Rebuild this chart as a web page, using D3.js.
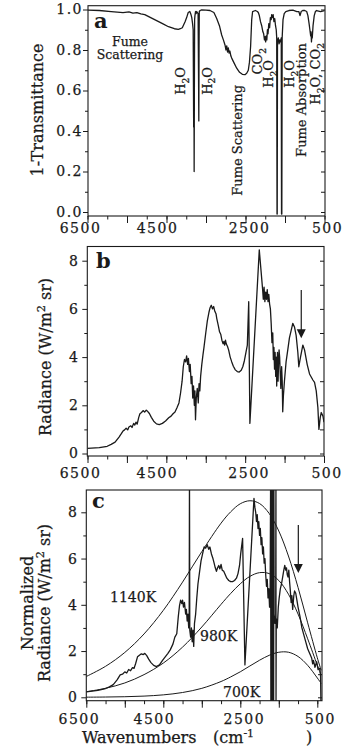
<!DOCTYPE html>
<html><head><meta charset="utf-8">
<script src="https://cdn.jsdelivr.net/npm/d3@7"></script>
<style>
body{margin:0;background:#fff;}
svg{display:block;font-family:"DejaVu Serif",serif;}
</style></head><body>
<svg id="chart" width="357" height="749"></svg>
<script>
// ---------------- DATA ----------------
const xTickValues = [6500,6000,5500,5000,4500,4000,3500,3000,2500,2000,1500,1000,500];
const xMajorTicks = [6500,5500,4500,3500,2500,1500,500];
const xTickLabels = [6500,4500,2500,500];
const yTicksA = [0,0.2,0.4,0.6,0.8,1.0];
const yMinorA = [0.1,0.3,0.5,0.7,0.9];
const yTicksBC = [0,2,4,6,8];
const yMinorBC = [1,3,5,7];

// panel a : 1-Transmittance  [wavenumber, value]
const spectrumA = [[6500,0.997],[6200,0.995],[5900,0.99],[5600,0.985],[5450,0.988],[5350,0.982],[5250,0.985],[5150,0.978],[5050,0.975],[4950,0.965],[4850,0.955],[4750,0.945],[4600,0.93],[4450,0.915],[4300,0.905],[4200,0.902],[4150,0.905],[4100,0.91],[4030,0.94],[3990,0.96],[3950,0.985],[3910,0.99],[3880,0.975],[3860,0.96],[3840,0.93],[3825,0.9],[3812,0.42],[3806,0.7],[3800,0.2],[3794,0.6],[3788,0.95],[3780,0.97],[3765,0.99],[3750,0.98],[3735,0.99],[3700,0.98],[3690,0.7],[3682,0.45],[3676,0.8],[3670,0.99],[3650,0.995],[3609,0.998],[3500,0.997],[3400,0.995],[3300,0.985],[3229,0.956],[3160,0.92],[3103,0.874],[3060,0.85],[3019,0.825],[2995,0.80],[2975,0.82],[2955,0.79],[2935,0.81],[2915,0.785],[2895,0.795],[2870,0.77],[2849,0.76],[2800,0.74],[2723,0.71],[2650,0.69],[2580,0.68],[2513,0.678],[2470,0.685],[2429,0.70],[2400,0.74],[2370,0.82],[2343,0.95],[2320,0.99],[2250,0.995],[2200,0.99],[2176,0.985],[2150,0.97],[2120,0.94],[2090,0.92],[2060,0.89],[2040,0.88],[2020,0.85],[2006,0.866],[1990,0.84],[1975,0.87],[1960,0.85],[1945,0.9],[1930,0.88],[1910,0.93],[1890,0.91],[1870,0.96],[1850,0.95],[1837,0.975],[1820,0.96],[1800,0.975],[1780,0.94],[1760,0.955],[1740,0.92],[1722,0.9],[1710,0.86],[1702,-0.01],[1697,-0.01],[1690,0.84],[1670,0.86],[1650,0.83],[1630,0.85],[1610,0.84],[1595,0.86],[1588,-0.01],[1580,-0.01],[1572,0.86],[1550,0.95],[1520,0.98],[1480,0.99],[1400,0.995],[1300,0.997],[1200,0.99],[1150,0.99],[1120,0.97],[1090,0.99],[1050,0.995],[1000,0.995],[951,0.99],[920,0.97],[890,0.93],[870,0.9],[850,0.87],[840,0.89],[830,0.84],[820,0.875],[810,0.86],[790,0.92],[760,0.97],[730,0.99],[700,0.995],[600,0.99],[500,0.995]];

// panel b : Radiance
const spectrumB = [[6500,0.21],[6200,0.24],[6000,0.3],[5900,0.38],[5800,0.47],[5700,0.68],[5650,0.8],[5600,0.93],[5560,0.98],[5520,1.05],[5480,0.98],[5450,1.1],[5400,1.15],[5370,1.08],[5330,1.25],[5300,1.18],[5270,1.3],[5240,1.22],[5200,1.5],[5170,1.65],[5130,1.7],[5090,1.78],[5050,1.72],[5010,1.8],[4970,1.74],[4930,1.66],[4880,1.5],[4820,1.34],[4750,1.23],[4680,1.2],[4600,1.25],[4520,1.35],[4440,1.48],[4380,1.55],[4330,1.65],[4280,1.72],[4230,1.9],[4180,2.1],[4140,2.5],[4100,3.0],[4070,3.6],[4040,3.9],[4010,3.8],[3985,4.05],[3960,3.7],[3940,3.95],[3915,3.4],[3895,3.7],[3870,2.9],[3850,3.2],[3830,2.3],[3810,2.8],[3790,2.0],[3775,2.6],[3760,1.4],[3740,2.3],[3715,2.7],[3690,2.1],[3670,2.9],[3650,2.6],[3630,3.2],[3600,3.7],[3570,4.1],[3545,4.4],[3500,5.0],[3460,5.5],[3420,5.85],[3390,6.05],[3360,6.15],[3330,6.0],[3300,6.1],[3270,5.9],[3240,5.8],[3220,5.6],[3180,5.3],[3150,5.05],[3120,4.95],[3090,4.7],[3060,4.55],[3040,4.65],[3020,4.5],[3000,4.7],[2980,4.55],[2950,4.45],[2920,4.3],[2880,4.0],[2840,3.8],[2800,3.62],[2750,3.47],[2700,3.4],[2650,3.38],[2600,3.45],[2560,3.6],[2520,3.85],[2480,4.2],[2445,4.5],[2410,6.3],[2380,1.25],[2142,8.45],[2056,6.78],[2040,6.4],[2020,6.9],[2000,6.3],[1980,6.7],[1960,6.4],[1940,6.8],[1920,6.3],[1900,6.6],[1880,6.2],[1860,6.0],[1840,5.4],[1820,4.6],[1800,5.0],[1785,3.9],[1770,4.4],[1755,3.5],[1740,4.2],[1725,3.2],[1710,4.0],[1700,2.8],[1690,3.6],[1680,4.2],[1665,3.0],[1650,3.9],[1640,4.3],[1625,4.0],[1610,3.3],[1595,2.7],[1575,3.6],[1560,3.0],[1547,1.73],[1530,2.4],[1504,3.0],[1462,3.8],[1419,4.3],[1377,4.8],[1334,5.1],[1292,5.4],[1249,5.25],[1207,4.9],[1164,4.2],[1139,3.6],[1096,4.0],[1037,4.5],[994,4.3],[927,3.7],[867,3.3],[782,3.05],[740,2.95],[697,2.6],[655,1.9],[629,1.0],[595,1.5],[570,1.7],[527,1.55],[500,1.3]];

// panel c : Normalized radiance
const spectrumC = [[6500,0.23],[6200,0.3],[6000,0.38],[5900,0.45],[5800,0.55],[5700,0.75],[5620,0.97],[5560,1.0],[5500,1.1],[5450,1.05],[5400,1.2],[5350,1.15],[5300,1.28],[5260,1.25],[5220,1.45],[5170,1.75],[5120,1.82],[5070,1.88],[5020,1.85],[4980,1.9],[4930,1.8],[4880,1.65],[4820,1.5],[4750,1.38],[4680,1.33],[4600,1.4],[4520,1.6],[4450,1.75],[4380,1.9],[4320,2.05],[4250,2.3],[4200,2.6],[4150,2.75],[4110,3.5],[4080,3.95],[4050,4.2],[4020,4.05],[4000,4.2],[3975,3.9],[3950,4.1],[3920,3.6],[3900,3.8],[3880,3.3],[3860,3.6],[3840,3.0],[3828,3.3],[3820,9.7],[3812,2.9],[3790,2.6],[3770,3.0],[3750,2.4],[3730,2.9],[3710,2.2],[3690,3.2],[3660,3.6],[3630,4.3],[3600,4.9],[3560,5.4],[3520,5.9],[3480,6.2],[3440,6.5],[3400,6.45],[3360,6.6],[3320,6.4],[3290,6.5],[3250,6.2],[3210,6.0],[3180,5.8],[3150,5.6],[3120,5.45],[3090,5.6],[3060,5.7],[3030,5.55],[3000,5.75],[2970,5.5],[2930,5.45],[2890,5.3],[2850,5.15],[2800,5.05],[2750,5.0],[2700,5.0],[2650,5.05],[2600,5.15],[2560,5.35],[2520,5.7],[2490,6.2],[2440,6.87],[2380,1.4],[2145,8.6],[2120,8.2],[2100,8.0],[2080,7.6],[2060,7.9],[2040,7.3],[2020,7.6],[2000,7.0],[1980,7.3],[1960,6.6],[1940,6.9],[1920,6.2],[1900,6.5],[1880,5.8],[1860,6.0],[1840,5.3],[1820,4.8],[1800,5.1],[1780,4.3],[1760,4.7],[1740,3.9],[1725,4.5],[1712,9.7],[1706,-0.3],[1700,9.7],[1694,-0.3],[1688,9.7],[1682,-0.3],[1676,9.7],[1670,-0.3],[1664,9.7],[1658,-0.3],[1652,9.7],[1646,-0.3],[1640,9.7],[1634,-0.3],[1628,9.7],[1622,3.6],[1600,3.2],[1580,3.5],[1574,9.7],[1572,-0.3],[1566,3.4],[1540,3.0],[1513,3.9],[1490,4.3],[1460,4.7],[1430,4.9],[1400,5.2],[1370,5.5],[1345,5.7],[1320,5.5],[1300,5.6],[1280,5.3],[1260,5.2],[1240,5.5],[1220,5.0],[1200,4.6],[1180,4.1],[1160,4.4],[1140,3.8],[1110,4.4],[1090,4.6],[1060,4.5],[1030,4.2],[1000,3.9],[950,3.5],[900,3.0],[850,2.7],[800,2.4],[750,2.1],[700,1.9],[647,1.7],[620,1.45],[600,1.6],[560,1.3],[517,1.54],[480,1.2],[431,1.25],[415,0.9],[405,-0.3]];

// blackbody reference curves (panel c)
const bbWavenumbers = [6500,6000,5500,5000,4500,4000,3500,3000,2750,2500,2250,2000,1750,1500,1250,1000,750,500,400];
const bb1140K = [0.90,1.34,1.94,2.74,3.76,4.98,6.30,7.53,8.02,8.37,8.50,8.38,7.95,7.19,6.11,4.75,3.22,1.71,1.17];
const bb980K  = [0.24,0.39,0.62,0.98,1.48,2.17,3.04,4.02,4.49,4.91,5.23,5.39,5.35,5.05,4.46,3.60,2.53,1.39,0.96];
const bb700K  = [0.005,0.012,0.025,0.052,0.105,0.207,0.387,0.683,0.881,1.103,1.356,1.603,1.816,1.948,1.949,1.765,1.381,0.837,0.603];

// arrows: [wavenumber, tail value, tip value]
const arrowB = [1077, 6.78, 4.78];
const arrowC = [993, 7.45, 5.37];

// ---------------- DRAWING ----------------
const INK = '#1a1a1a';
const svg = d3.select('#chart');
const labelNudge = {6500:-7, 4500:-9, 2500:4, 500:3};

function rich(g, x, y, parts, o) {
  const size = o.size || 13;
  const t = g.append('text')
    .attr('transform', `translate(${x},${y}) rotate(${o.rot||0})`)
    .attr('text-anchor', o.anchor || 'start')
    .attr('font-size', size)
    .attr('font-weight', o.weight || 'normal')
    .attr('fill', INK).attr('stroke', INK).attr('stroke-width', 0.25);
  let cur = 0;
  parts.forEach(([s, k]) => {
    const target = k === 'sub' ? size*0.3 : k === 'sup' ? -size*0.4 : 0;
    const ts = t.append('tspan').text(s).attr('dy', target - cur);
    if (k !== 'n') ts.attr('font-size', size*0.7);
    cur = target;
  });
  return t;
}

function styleAxis(sel) {
  sel.select('.domain').remove();
  sel.selectAll('line').attr('stroke', INK);
  sel.attr('font-family', '"DejaVu Serif", serif').attr('font-size', 14);
  sel.selectAll('text').attr('fill', INK).attr('letter-spacing', 1.5)
    .attr('stroke', INK).attr('stroke-width', 0.25);
}

function panel(cfg) {
  const x = d3.scaleLinear().domain([6500, 500]).range([cfg.x6500, cfg.x500]);
  const y = d3.scaleLinear().domain(cfg.yDom).range(cfg.yRange);
  const g = svg.append('g');
  const id = 'clip-' + cfg.name;
  svg.append('clipPath').attr('id', id).append('rect')
    .attr('x', cfg.left).attr('y', cfg.top)
    .attr('width', cfg.right - cfg.left).attr('height', cfg.bottom - cfg.top);

  // bottom axis: minor + major ticks
  g.append('g').attr('transform', `translate(0,${cfg.bottom})`)
    .call(d3.axisBottom(x).tickValues(xTickValues).tickSize(3.5).tickFormat(''))
    .call(styleAxis);
  g.append('g').attr('transform', `translate(0,${cfg.bottom})`)
    .call(d3.axisBottom(x).tickValues(xMajorTicks).tickSize(7).tickFormat(''))
    .call(styleAxis);
  g.append('g').selectAll('text').data(xTickLabels).join('text')
    .attr('x', d => x(d) + labelNudge[d]).attr('y', cfg.labelY)
    .attr('text-anchor', 'middle').attr('font-size', 14).attr('letter-spacing', 1.5)
    .attr('fill', INK).attr('stroke', INK).attr('stroke-width', 0.25).text(d => d);

  // left axis
  g.append('g').attr('transform', `translate(${cfg.left},0)`)
    .call(d3.axisLeft(y).tickValues(cfg.yTicks).tickSize(5).tickPadding(cfg.pad).tickFormat(cfg.fmt))
    .call(styleAxis);
  g.append('g').attr('transform', `translate(${cfg.left},0)`)
    .call(d3.axisLeft(y).tickValues(cfg.yMinor).tickSize(3).tickFormat(''))
    .call(styleAxis);
  // right frame inward ticks
  g.append('g').attr('transform', `translate(${cfg.right},0)`)
    .call(d3.axisLeft(y).tickValues(cfg.yTicks.concat(cfg.yMinor)).tickSize(4).tickFormat(''))
    .call(styleAxis);

  // frame
  g.append('rect').attr('x', cfg.left).attr('y', cfg.top)
    .attr('width', cfg.right - cfg.left).attr('height', cfg.bottom - cfg.top)
    .attr('fill', 'none').attr('stroke', INK).attr('stroke-width', 1.1);

  // panel letter
  g.append('text').attr('x', cfg.letterX).attr('y', cfg.letterY)
    .attr('font-size', 21).attr('font-weight', 'bold').attr('fill', INK).text(cfg.name);

  const plot = g.append('g').attr('clip-path', `url(#${id})`);
  return {x, y, g, plot};
}

function trace(p, data, width, curve) {
  p.plot.append('path').datum(data)
    .attr('fill', 'none').attr('stroke', INK).attr('stroke-width', width)
    .attr('stroke-linejoin', 'round')
    .attr('d', d3.line().x(d => p.x(d[0])).y(d => p.y(d[1])).curve(curve || d3.curveLinear));
}

function arrow(p, a) {
  const X = p.x(a[0]), y1 = p.y(a[1]), y2 = p.y(a[2]);
  p.g.append('line').attr('x1', X).attr('x2', X).attr('y1', y1).attr('y2', y2 - 6)
    .attr('stroke', INK).attr('stroke-width', 1.2);
  p.g.append('path').attr('d', `M${X-4.5},${y2-9}L${X+4.5},${y2-9}L${X},${y2}Z`).attr('fill', INK);
}

// ---- panel a ----
const pa = panel({name:'a', x6500:87.5, x500:324.5, left:88, right:325, top:5.7, bottom:216,
  yDom:[0,1], yRange:[212,9.5], yTicks:yTicksA, yMinor:yMinorA, fmt:d3.format('.1f'), pad:0,
  labelY:233, letterX:94, letterY:28});
trace(pa, spectrumA, 1.3);
rich(pa.g, 43, 110, [['1-Transmittance','n']], {size:16, anchor:'middle', rot:-90});
rich(pa.g, 130, 45.5, [['Fume','n']], {size:12.5, anchor:'middle'});
rich(pa.g, 130, 59, [['Scattering','n']], {size:12.5, anchor:'middle'});
const H2O = [['H','n'],['2','sub'],['O','n']];
rich(pa.g, 185, 67, H2O, {size:13, anchor:'end', rot:-90});
rich(pa.g, 211.5, 67, H2O, {size:13, anchor:'end', rot:-90});
rich(pa.g, 242, 85, [['Fume Scattering','n']], {size:13, anchor:'end', rot:-90});
rich(pa.g, 262, 48, [['CO','n'],['2','sub']], {size:13, anchor:'end', rot:-90});
rich(pa.g, 273, 60, H2O, {size:13, anchor:'end', rot:-90});
rich(pa.g, 294, 60, H2O, {size:13, anchor:'end', rot:-90});
rich(pa.g, 306, 43, [['Fume Absorption','n']], {size:13, anchor:'end', rot:-90});
rich(pa.g, 320, 43, [['H','n'],['2','sub'],['O, CO','n'],['2','sub']], {size:13, anchor:'end', rot:-90});

// ---- panel b ----
const pb = panel({name:'b', x6500:87.5, x500:324, left:87.3, right:324, top:246.5, bottom:456,
  yDom:[0,8], yRange:[453.5,260.7], yTicks:yTicksBC, yMinor:yMinorBC, fmt:d3.format('d'), pad:3,
  labelY:478, letterX:96, letterY:268});
trace(pb, spectrumB, 1.3);
arrow(pb, arrowB);
rich(pb.g, 51, 357, [['Radiance (W/m','n'],['2','sup'],[' sr)','n']], {size:16, anchor:'middle', rot:-90});

// ---- panel c ----
const pc = panel({name:'c', x6500:86.3, x500:317.3, left:86.3, right:322, top:490, bottom:700.7,
  yDom:[0,8], yRange:[697.3,512.3], yTicks:yTicksBC, yMinor:yMinorBC, fmt:d3.format('d'), pad:3,
  labelY:724, letterX:92, letterY:508});
[bb1140K, bb980K, bb700K].forEach(vals => {
  trace(pc, bbWavenumbers.map((w, i) => [w, vals[i]]), 1.0, d3.curveCatmullRom);
});
trace(pc, spectrumC, 1.3);
arrow(pc, arrowC);
rich(pc.g, 110, 602, [['1140K','n']], {size:14});
rich(pc.g, 200, 640.7, [['980K','n']], {size:14});
rich(pc.g, 223, 697, [['700K','n']], {size:14});
rich(pc.g, 33, 603, [['Normalized','n']], {size:16, anchor:'middle', rot:-90});
rich(pc.g, 50, 603, [['Radiance (W/m','n'],['2','sup'],[' sr)','n']], {size:16, anchor:'middle', rot:-90});

// x-axis title
const xt = svg.append('text').attr('y', 743).attr('font-size', 16).attr('fill', INK)
  .attr('stroke', INK).attr('stroke-width', 0.25);
xt.append('tspan').attr('x', 82).text('Wavenumbers');
xt.append('tspan').attr('x', 213).text('(cm');
xt.append('tspan').attr('dy', -6).attr('font-size', 11).text('-1');
xt.append('tspan').attr('dy', 6).attr('x', 306).text(')');
</script>
</body></html>
